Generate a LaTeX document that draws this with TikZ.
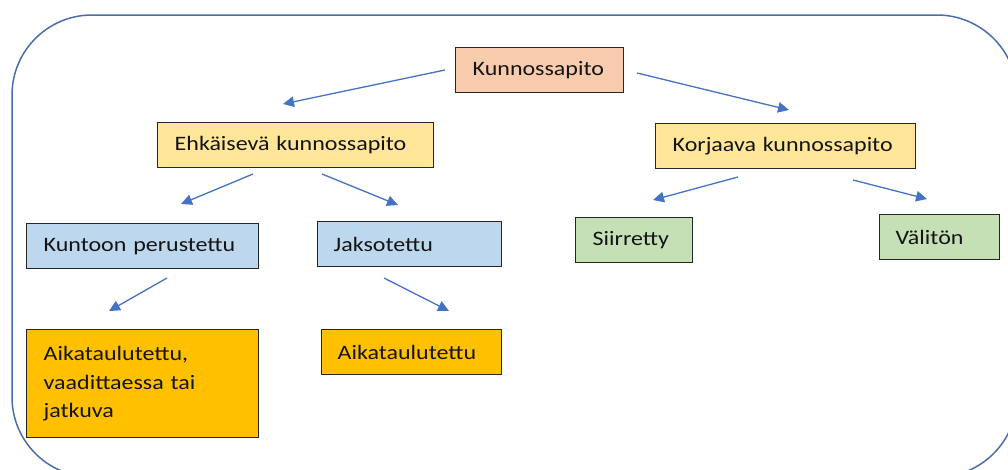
\documentclass[tikz,border=0pt]{standalone}
\usepackage{fontspec}
\setmainfont{Carlito}[FakeStretch=1.17]
\usetikzlibrary{arrows.meta}
\definecolor{frameblue}{HTML}{4A6FA8}
\definecolor{arrowblue}{HTML}{4472C4}
\definecolor{peach}{HTML}{F8CBAD}
\definecolor{lightgold}{HTML}{FFE699}
\definecolor{paleblue}{HTML}{BDD7EE}
\definecolor{amber}{HTML}{FFC000}
\definecolor{palegreen}{HTML}{C5E0B4}
\definecolor{boxline}{HTML}{262626}
\tikzset{
  box/.style={draw=boxline, line width=1.4pt, rectangle, anchor=north west,
    inner xsep=17pt, inner ysep=2pt, align=left, text=black!92,
    font=\fontsize{20.5}{28.5}\selectfont},
  boxsize/.style 2 args={minimum width=#1pt, text width=#1pt-34pt, minimum height=#2pt},
  link/.style={draw=arrowblue, line width=1.3pt,
    -{Triangle[length=11pt,width=10.5pt]}},
}
\begin{document}
\begin{tikzpicture}[x=1pt,y=-1pt]
\useasboundingbox (0,0) rectangle (1008,469);
\begin{scope}
  \clip (0,0) rectangle (1008,469);
  \draw[frameblue, line width=1.5pt, rounded corners=80pt] (12,15) rectangle (1017,477);
\end{scope}

% boxes
\node[box, fill=peach, boxsize={168}{45}] (root) at (455,47) {Kunnossapito};
\node[box, fill=lightgold, boxsize={276}{45}] (prev) at (157,122) {Ehkäisevä kunnossapito};
\node[box, fill=lightgold, boxsize={260}{45}] (corr) at (655,123) {Korjaava kunnossapito};
\node[box, fill=paleblue, boxsize={232}{45}] (cond) at (26,223) {Kuntoon perustettu};
\node[box, fill=paleblue, boxsize={184}{45}, inner xsep=16pt, text width=152pt] (peri) at (317,221) {Jaksotettu};
\node[box, fill=amber, boxsize={232}{108}] (sched1) at (26,329) {Aikataulutettu,\\vaadittaessa tai\\jatkuva};
\node[box, fill=amber, boxsize={180}{45}, inner xsep=16pt, text width=148pt] (sched2) at (321,329) {Aikataulutettu};
\node[box, fill=palegreen, boxsize={117}{45}] (defer) at (575,217) {Siirretty};
\node[box, fill=palegreen, boxsize={120}{45}, inner xsep=16pt, text width=88pt] (immed) at (879,214) {Välitön};

% connector end points
\coordinate (r1) at (445,70);   \coordinate (p0) at (283,104);
\coordinate (r2) at (637,73);   \coordinate (c0) at (789,110);
\coordinate (p1) at (253,174);  \coordinate (k0) at (181,204);
\coordinate (p2) at (322,174);  \coordinate (j0) at (398,205);
\coordinate (c1) at (738,177);  \coordinate (s0) at (653,200);
\coordinate (c2) at (853,180);  \coordinate (v0) at (927,199);
\coordinate (k1) at (167,278);  \coordinate (a0) at (109,311);
\coordinate (j1) at (384,278);  \coordinate (b0) at (449,311);

\draw[link] (r1) -- (p0);
\draw[link] (r2) -- (c0);
\draw[link] (p1) -- (k0);
\draw[link] (p2) -- (j0);
\draw[link] (c1) -- (s0);
\draw[link] (c2) -- (v0);
\draw[link] (k1) -- (a0);
\draw[link] (j1) -- (b0);
\end{tikzpicture}
\end{document}
